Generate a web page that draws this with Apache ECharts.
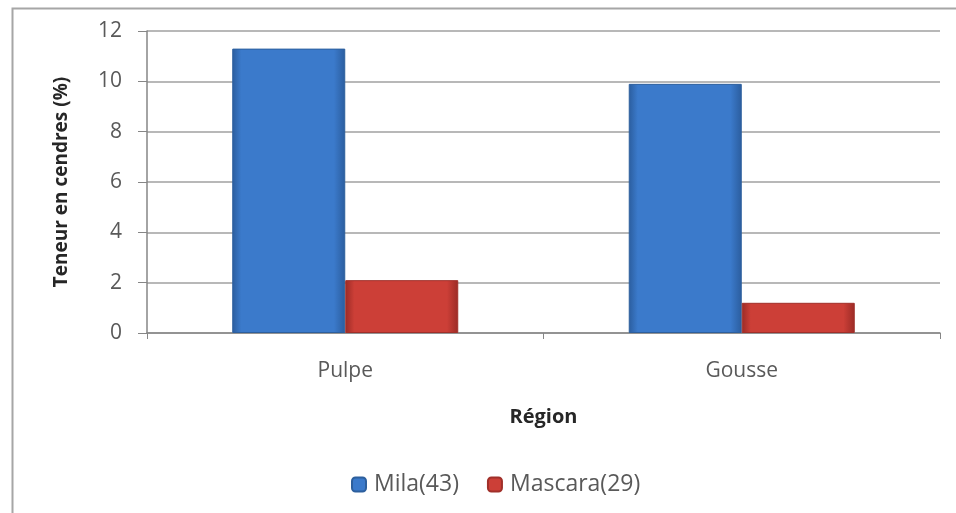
<!DOCTYPE html>
<html>
<head>
<meta charset="utf-8">
<script src="https://cdn.jsdelivr.net/npm/echarts@6/dist/echarts.min.js"></script>
<style>
  html, body { margin: 0; padding: 0; background: #fff; }
  #chart { width: 956px; height: 513px; }
</style>
</head>
<body>
<div id="chart"></div>
<script>
// Ash content (%) of carob pulp and pods by region
const categories = ['Pulpe', 'Gousse'];
const milaValues = [11.3, 9.9];
const mascaraValues = [2.1, 1.2];
const seriesNames = ['Mila(43)', 'Mascara(29)'];
const yTicks = [0, 2, 4, 6, 8, 10, 12];

const FONT = '"Open Sans", sans-serif';

function barGradient(edge, mid) {
  return new echarts.graphic.LinearGradient(0, 0, 1, 0, [
    { offset: 0, color: edge },
    { offset: 0.08, color: mid },
    { offset: 0.9, color: mid },
    { offset: 1, color: edge }
  ]);
}

const chart = echarts.init(document.getElementById('chart'), null, { renderer: 'canvas' });

chart.setOption({
  backgroundColor: '#ffffff',
  animation: false,
  graphic: [{
    type: 'rect',
    left: 10, top: 6,
    shape: { width: 980, height: 540 },
    style: { fill: 'none', stroke: '#a6a6a6', lineWidth: 2 },
    z: -1
  }],
  grid: { left: 147, right: 16, top: 31, bottom: 180 },
  legend: {
    data: seriesNames,
    bottom: 12,
    left: 346,
    itemWidth: 14,
    itemHeight: 14,
    itemGap: 28,
    textStyle: { fontFamily: FONT, fontSize: 23, color: '#595959', padding: [0, 0, 0, 3] }
  },
  xAxis: {
    type: 'category',
    data: categories,
    name: 'Région',
    nameLocation: 'middle',
    nameGap: 74,
    nameTextStyle: { fontFamily: FONT, fontSize: 20, fontWeight: 'bold', color: '#262626' },
    axisLine: { lineStyle: { color: '#868686', width: 1.5 } },
    axisTick: { show: true, length: 6, lineStyle: { color: '#868686' } },
    axisLabel: { fontFamily: FONT, fontSize: 21, color: '#595959', margin: 28 }
  },
  yAxis: {
    type: 'value',
    min: 0, max: 12, interval: 2,
    name: 'Teneur en cendres (%)',
    nameLocation: 'middle',
    nameGap: 76,
    nameTextStyle: { fontFamily: FONT, fontSize: 19, fontWeight: 'bold', color: '#262626' },
    axisLine: { show: true, lineStyle: { color: '#868686', width: 1.5 } },
    axisTick: { show: true, inside: false, length: 9, lineStyle: { color: '#868686' } },
    axisLabel: {
      fontFamily: FONT, fontSize: 21, color: '#595959', margin: 25,
      formatter: v => (yTicks.includes(v) ? String(v) : '')
    },
    splitLine: { show: true, lineStyle: { color: '#a0a0a0', width: 1.5 } }
  },
  series: [
    {
      name: seriesNames[0],
      type: 'bar',
      data: milaValues,
      barGap: '0%',
      barCategoryGap: '43%',
      itemStyle: {
        color: barGradient('#2b5d9e', '#3b7acb'),
        borderColor: '#2d5f9d',
        borderWidth: 1
      }
    },
    {
      name: seriesNames[1],
      type: 'bar',
      data: mascaraValues,
      itemStyle: {
        color: barGradient('#9b2b26', '#cc3f37'),
        borderColor: '#a0302a',
        borderWidth: 1
      }
    }
  ]
});
</script>
</body>
</html>
